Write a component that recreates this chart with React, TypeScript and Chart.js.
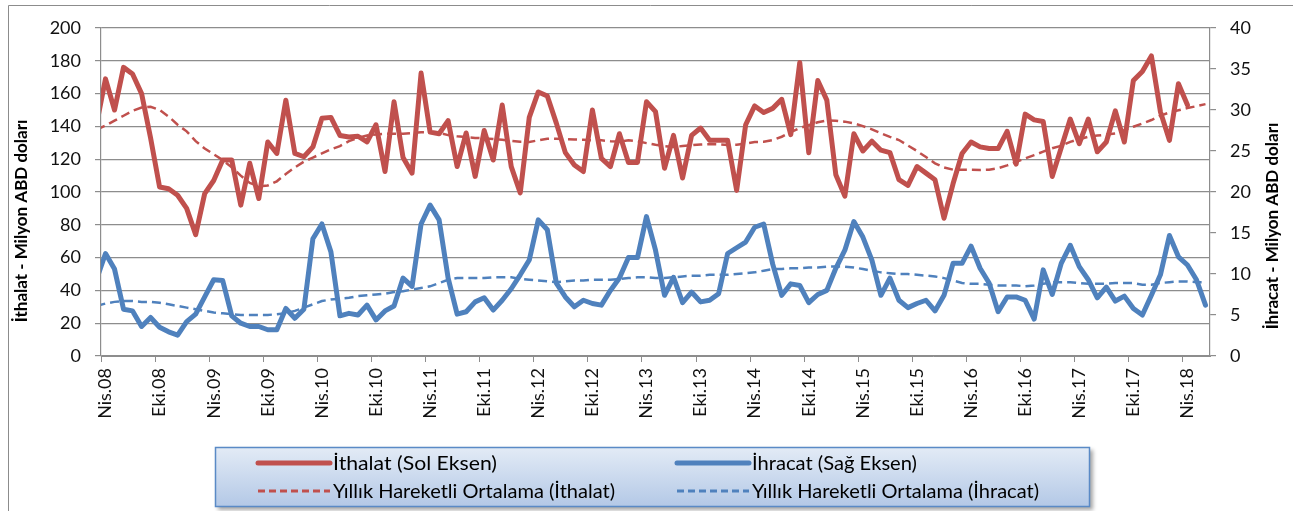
import React, { useEffect, useRef } from "react";
import { Chart, registerables } from "chart.js";

Chart.register(...registerables);

// Month categories: index 0 = Mar 2008 (just outside the plot), index 1 = Nis.08 ... index 123 = Haz.18
const monthAbbr = ["Oca", "Şub", "Mar", "Nis", "May", "Haz", "Tem", "Ağu", "Eyl", "Eki", "Kas", "Ara"];
const months: string[] = Array.from({ length: 124 }, (_, i) => {
  const m = (2 + i) % 12;
  const y = 8 + Math.floor((2 + i) / 12);
  return `${monthAbbr[m]}.${String(y).padStart(2, "0")}`;
});

const tickLabels = [
  "Nis.08", "Eki.08", "Nis.09", "Eki.09", "Nis.10", "Eki.10", "Nis.11", "Eki.11", "Nis.12", "Eki.12",
  "Nis.13", "Eki.13", "Nis.14", "Eki.14", "Nis.15", "Eki.15", "Nis.16", "Eki.16", "Nis.17", "Eki.17", "Nis.18",
];

const leftTicks = [0, 20, 40, 60, 80, 100, 120, 140, 160, 180, 200];
const rightTicks = [0, 5, 10, 15, 20, 25, 30, 35, 40];

// İthalat (left axis, million USD)
const ithalat = [
  141, 169, 150, 176, 172, 160, 133, 103, 102, 98,
  90, 74, 99, 107, 119.5, 119.5, 92, 117.5, 96, 130.5,
  123.5, 156, 123.5, 121.5, 127.5, 145, 145.5, 134.5, 133.5, 134,
  130.5, 141, 112.5, 155, 121, 111.5, 172.5, 136.5, 135.5, 143.5,
  115.5, 136, 109.5, 137.5, 119.5, 153, 115.5, 99.5, 145.5, 161,
  158.5, 142, 124, 116.5, 112.5, 150, 120.5, 115.5, 135.5, 118,
  118, 155, 149, 114.5, 134.5, 108.5, 134.5, 139, 131.5, 131.5,
  131.5, 101, 141, 152.5, 148.5, 151, 156.5, 135, 179, 124,
  168, 156, 110.5, 97.5, 135.5, 125, 131, 125.5, 124, 107.5,
  104, 115.5, 111.5, 107.5, 84, 105, 123.5, 130.5, 127.5, 126.5,
  126.5, 137, 117, 147.5, 144, 143, 109.5, 127, 144.5, 129.5,
  144.5, 124.5, 130.5, 149.5, 130.5, 168, 173.5, 183, 149, 131.5,
  166, 153,
];

// İhracat (right axis, million USD)
const ihracat = [
  9.3, 12.5, 10.6, 5.7, 5.5, 3.6, 4.7, 3.5, 2.95, 2.55,
  4.2, 5.1, 7.2, 9.3, 9.2, 4.9, 4.0, 3.6, 3.6, 3.2,
  3.2, 5.8, 4.6, 5.7, 14.3, 16.1, 12.7, 4.9, 5.2, 5.0,
  6.2, 4.4, 5.5, 6.1, 9.5, 8.5, 16.1, 18.4, 16.6, 9.5,
  5.1, 5.4, 6.6, 7.1, 5.6, 6.8, 8.2, 9.9, 11.7, 16.6,
  15.4, 8.9, 7.2, 6.0, 6.8, 6.4, 6.2, 8.0, 9.5, 12.0,
  12.0, 17.0, 12.9, 7.4, 9.6, 6.5, 7.8, 6.6, 6.8, 7.6,
  12.5, 13.2, 13.9, 15.7, 16.1, 11.2, 7.4, 8.8, 8.6, 6.5,
  7.5, 8.0, 10.7, 12.9, 16.4, 14.5, 11.7, 7.4, 9.5, 6.8,
  5.9, 6.4, 6.8, 5.5, 7.4, 11.3, 11.3, 13.4, 10.7, 8.9,
  5.4, 7.2, 7.2, 6.8, 4.5, 10.5, 7.5, 11.3, 13.5, 10.9,
  9.3, 7.1, 8.4, 6.7, 7.3, 5.8, 5.0, 7.4, 9.9, 14.7,
  12.1, 11.1, 9.3, 6.2,
];

// Yıllık Hareketli Ortalama (İthalat)
const ithalatMA = [
  138, 140.5, 143.5, 146.5, 149.5, 151.5, 152, 150, 146, 141,
  137, 131, 126.5, 123, 119.5, 115, 110, 105.5, 103.5, 104,
  106.5, 111, 115, 118.5, 121, 123.5, 126, 128, 131, 133,
  134.5, 135, 135.5, 135.5, 135.5, 136, 136.5, 136.5, 136, 134.7,
  134, 133.5, 133, 132.7, 132.3, 131.8, 131.2, 130.6, 130.5, 131.5,
  132.5, 132.5, 132.2, 132, 131.8, 131.6, 131.5, 131, 130.8, 131.5,
  131, 129.8, 128.8, 128, 127.5, 128, 128.5, 129, 129.2, 129,
  128.7, 128.8, 129.5, 130.5, 130.6, 131.6, 133.7, 136.5, 139, 140.8,
  142.5, 143.6, 143.5, 142.9, 141.8, 140.2, 138.2, 135.8, 133.6, 131.7,
  128.3, 125, 121.3, 117.5, 115, 113.6, 113.6, 113.5, 113.4, 113.6,
  114.5, 116.2, 118.3, 120.5, 122.5, 124.6, 126.7, 128.2, 130.6, 132.2,
  133.7, 134.4, 135, 135.7, 137.7, 139.8, 141.8, 143.9, 146.6, 148.5,
  149.8, 151.2, 152.3, 153.6,
];

// Yıllık Hareketli Ortalama (İhracat)
const ihracatMA = [
  6.1, 6.4, 6.6, 6.7, 6.7, 6.6, 6.6, 6.5, 6.3, 6.1,
  5.9, 5.7, 5.5, 5.3, 5.2, 5.1, 5.0, 5.0, 5.0, 5.0,
  5.1, 5.2, 5.5, 5.9, 6.3, 6.7, 6.9, 7.0, 7.1, 7.3,
  7.4, 7.5, 7.6, 7.8, 7.9, 8.1, 8.3, 8.5, 8.9, 9.3,
  9.5, 9.5, 9.5, 9.5, 9.6, 9.6, 9.6, 9.4, 9.3, 9.2,
  9.1, 9.0, 9.1, 9.2, 9.2, 9.3, 9.3, 9.3, 9.4, 9.5,
  9.6, 9.6, 9.5, 9.5, 9.6, 9.7, 9.8, 9.8, 9.9, 9.9,
  9.9, 10.0, 10.1, 10.2, 10.4, 10.6, 10.6, 10.7, 10.7, 10.8,
  10.8, 10.9, 10.9, 10.9, 10.8, 10.6, 10.4, 10.2, 10.1, 10.0,
  10.0, 9.9, 9.8, 9.7, 9.5, 9.2, 8.9, 8.8, 8.8, 8.7,
  8.6, 8.6, 8.6, 8.5, 8.6, 8.8, 9.0, 9.0, 9.0, 8.9,
  8.8, 8.8, 8.8, 8.9, 8.9, 8.9, 8.7, 8.7, 8.9, 9.0,
  9.1, 9.1, 9.0, 9.0,
];

const seriesLabels = [
  "İthalat (Sol Eksen)",
  "İhracat (Sağ Eksen)",
  "Yıllık Hareketli Ortalama (İthalat)",
  "Yıllık Hareketli Ortalama (İhracat)",
];
const leftTitle = "İthalat - Milyon ABD doları";
const rightTitle = "İhracat - Milyon ABD doları";

const RED = "#C0504D";
const BLUE = "#4F81BD";
const GRID = "#8d8d8d";
const FONT = "Lato, 'Open Sans', sans-serif";

const toPoints = (arr: number[]) => arr.map((v, i) => ({ x: i, y: v }));

const decorPlugin = {
  id: "decor",
  beforeDraw(chart: any) {
    const ctx = chart.ctx;
    ctx.save();
    ctx.fillStyle = "#ffffff";
    ctx.fillRect(0, 0, chart.width, chart.height);
    ctx.restore();
  },
  afterDraw(chart: any) {
    const ctx = chart.ctx as CanvasRenderingContext2D;
    ctx.save();
    // outer frame
    ctx.strokeStyle = "#8c8c8c";
    ctx.lineWidth = 1;
    ctx.beginPath();
    ctx.moveTo(8.5, chart.height);
    ctx.lineTo(8.5, 5.5);
    ctx.lineTo(chart.width, 5.5);
    ctx.stroke();

    // axis titles
    ctx.fillStyle = "#000";
    ctx.font = `bold 17px ${FONT}`;
    ctx.textAlign = "center";
    ctx.textBaseline = "middle";
    ctx.save();
    ctx.translate(22, 221);
    ctx.rotate(-Math.PI / 2);
    ctx.fillText(leftTitle, 0, 0);
    ctx.restore();
    ctx.save();
    ctx.translate(1273, 226);
    ctx.rotate(-Math.PI / 2);
    ctx.fillText(rightTitle, 0, 0);
    ctx.restore();

    // legend box
    const bx = 215, by = 447, bw = 875, bh = 60;
    ctx.save();
    ctx.shadowColor = "rgba(0,0,0,0.35)";
    ctx.shadowOffsetX = 3;
    ctx.shadowOffsetY = 3;
    ctx.shadowBlur = 4;
    const g = ctx.createLinearGradient(0, by, 0, by + bh);
    g.addColorStop(0, "#e3ebf6");
    g.addColorStop(1, "#b3c8e6");
    ctx.fillStyle = g;
    ctx.fillRect(bx, by, bw, bh);
    ctx.restore();
    ctx.strokeStyle = "#5a8ac6";
    ctx.lineWidth = 1.5;
    ctx.strokeRect(bx + 0.5, by + 0.5, bw - 1, bh - 1);

    const slots = [
      { x: 258, y: 463, w: 164 },
      { x: 677, y: 463, w: 165 },
      { x: 258, y: 491, w: 282 },
      { x: 677, y: 491, w: 287 },
    ];
    chart.data.datasets.forEach((ds: any, i: number) => {
      const s = slots[i];
      const dashed = ds.borderDash && ds.borderDash.length;
      ctx.save();
      ctx.strokeStyle = ds.borderColor;
      ctx.lineWidth = dashed ? 3 : 5;
      ctx.lineCap = dashed ? "butt" : "round";
      ctx.setLineDash(dashed ? [7, 4] : []);
      ctx.beginPath();
      ctx.moveTo(s.x, s.y);
      ctx.lineTo(s.x + 72, s.y);
      ctx.stroke();
      ctx.restore();

      ctx.save();
      ctx.fillStyle = "#000";
      ctx.font = `20px ${FONT}`;
      ctx.textAlign = "left";
      ctx.textBaseline = "middle";
      const tw = ctx.measureText(ds.label).width;
      ctx.translate(s.x + 75, s.y + 1);
      ctx.scale(s.w / tw, 1);
      ctx.fillText(ds.label, 0, 0);
      ctx.restore();
    });
    ctx.restore();
  },
};

export default function App() {
  const ref = useRef<HTMLCanvasElement | null>(null);

  useEffect(() => {
    if (!ref.current) return;
    const tickPositions = tickLabels.map((t) => months.indexOf(t) - 0.5);
    const chart = new Chart(ref.current, {
      type: "line",
      data: {
        datasets: [
          {
            label: seriesLabels[0],
            data: toPoints(ithalat),
            yAxisID: "y",
            borderColor: RED,
            backgroundColor: RED,
            borderWidth: 5,
            pointRadius: 0,
            borderJoinStyle: "round",
            borderCapStyle: "round",
            tension: 0,
            order: 2,
          },
          {
            label: seriesLabels[1],
            data: toPoints(ihracat),
            yAxisID: "y1",
            borderColor: BLUE,
            backgroundColor: BLUE,
            borderWidth: 5,
            pointRadius: 0,
            borderJoinStyle: "round",
            borderCapStyle: "round",
            tension: 0,
            order: 3,
          },
          {
            label: seriesLabels[2],
            data: toPoints(ithalatMA),
            yAxisID: "y",
            borderColor: RED,
            backgroundColor: RED,
            borderWidth: 2.5,
            borderDash: [9, 5],
            pointRadius: 0,
            tension: 0,
            order: 1,
          },
          {
            label: seriesLabels[3],
            data: toPoints(ihracatMA),
            yAxisID: "y1",
            borderColor: BLUE,
            backgroundColor: BLUE,
            borderWidth: 2.5,
            borderDash: [9, 5],
            pointRadius: 0,
            tension: 0,
            order: 0,
          },
        ] as any,
      },
      plugins: [decorPlugin as any],
      options: {
        responsive: false,
        animation: false,
        devicePixelRatio: 1,
        layout: { padding: { top: 28, left: 0, right: 0, bottom: 0 } },
        plugins: { legend: { display: false }, tooltip: { enabled: false } },
        scales: {
          x: {
            type: "linear",
            min: 0.5,
            max: 123.5,
            afterBuildTicks: (s: any) => {
              s.ticks = tickPositions.map((v) => ({ value: v }));
            },
            afterFit: (s: any) => {
              s.height = 155;
            },
            grid: { drawOnChartArea: false, drawTicks: true, tickLength: 6, color: GRID, lineWidth: 1 },
            border: { display: true, color: GRID, width: 1 },
            ticks: {
              autoSkip: false,
              maxRotation: 90,
              minRotation: 90,
              labelOffset: 4.5,
              padding: 6,
              color: "#111",
              font: { family: FONT, size: 18 },
              callback: (_v: any, i: number) => tickLabels[i],
            },
          },
          y: {
            position: "left",
            min: 0,
            max: 200,
            afterBuildTicks: (s: any) => {
              s.ticks = leftTicks.map((v) => ({ value: v }));
            },
            afterFit: (s: any) => {
              s.width = 101;
            },
            grid: { color: GRID, lineWidth: 1.2, tickLength: 6 },
            border: { display: true, color: GRID, width: 1.2 },
            ticks: { padding: 14, color: "#111", font: { family: FONT, size: 18 } },
          },
          y1: {
            position: "right",
            min: 0,
            max: 40,
            afterBuildTicks: (s: any) => {
              s.ticks = rightTicks.map((v) => ({ value: v }));
            },
            afterFit: (s: any) => {
              s.width = 83;
            },
            grid: { drawOnChartArea: false, color: GRID, lineWidth: 1.2, tickLength: 6 },
            border: { display: true, color: GRID, width: 1.2 },
            ticks: { padding: 14, color: "#111", font: { family: FONT, size: 18 } },
          },
        },
      } as any,
    });
    return () => chart.destroy();
  }, []);

  return (
    <div style={{ position: "fixed", left: 0, top: 0, width: 1293, height: 511, background: "#fff" }}>
      <canvas ref={ref} width={1293} height={511} style={{ display: "block", width: 1293, height: 511 }} />
    </div>
  );
}
